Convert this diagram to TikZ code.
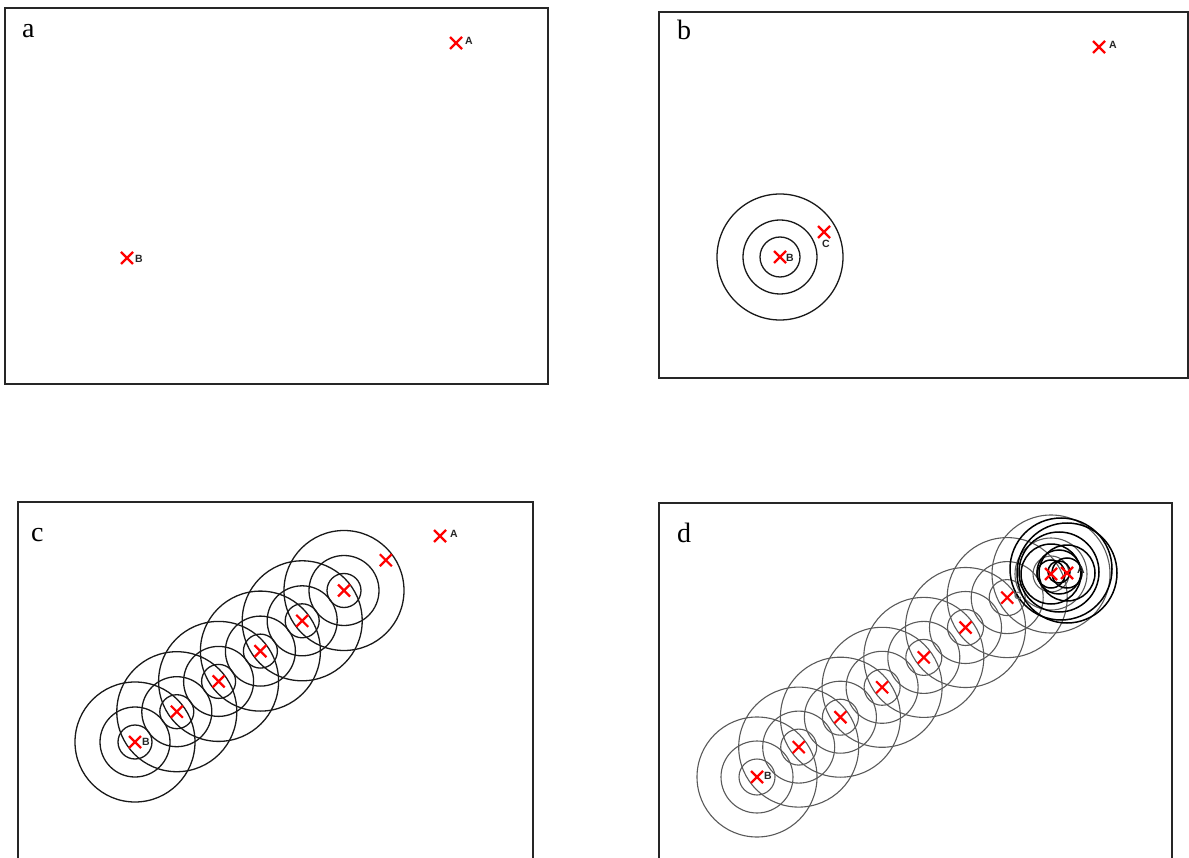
\documentclass[tikz,border=0pt]{standalone}
\usepackage{fontspec}
\setmainfont{Liberation Serif}
\newfontfamily\lblfont{Liberation Sans}
\begin{document}
\begin{tikzpicture}[x=1pt,y=-1pt,
  panel/.style={draw=black!85, line width=1.3pt},
  ring/.style={draw=black!90, line width=1.3pt},
  gring/.style={draw=black!65, line width=1.1pt},
  bring/.style={draw=black, line width=1.5pt},
  ptlabel/.style={font=\lblfont\bfseries\fontsize{10.5}{10.5}\selectfont, inner sep=0pt, text=black!85},
  letter/.style={font=\fontsize{28}{28}\selectfont, inner sep=0pt, anchor=base west},
  xm/.pic={\draw[red, line width=2.2pt] (-6,-6)--(6,6) (-6,6)--(6,-6);}
]
\useasboundingbox (0,0) rectangle (1189,858);
\clip (0,0) rectangle (1189,858);

% ---------------- panel a ----------------
\draw[panel] (5,8) rectangle (548,384);
\node[letter] (la) at (22,38) {a};
\coordinate (aA) at (456,43);
\coordinate (aB) at (127,258);
\pic at (aA) {xm};
\pic at (aB) {xm};
\node[ptlabel] (aAl) at (469,41) {A};
\node[ptlabel] (aBl) at (139,259) {B};

% ---------------- panel b ----------------
\draw[panel] (659,12) rectangle (1188,378);
\node[letter] (lb) at (677,40) {b};
\coordinate (bA) at (1099,47);
\coordinate (bB) at (780,257);
\coordinate (bC) at (824,232);
\draw[ring] (bB) circle[radius=20] (bB) circle[radius=37] (bB) circle[radius=63];
\pic at (bA) {xm};
\pic at (bB) {xm};
\pic at (bC) {xm};
\node[ptlabel] (bAl) at (1113,45) {A};
\node[ptlabel] (bBl) at (790,258) {B};
\node[ptlabel] (bCl) at (826,244) {C};

% ---------------- panel c ----------------
\draw[panel] (18,502) rectangle (533,880);
\node[letter] (lc) at (31,541) {c};
\foreach \i in {0,...,5}{
  \draw[ring] (135+41.8*\i,742-30.3*\i) circle[radius=17]
                (135+41.8*\i,742-30.3*\i) circle[radius=35]
                (135+41.8*\i,742-30.3*\i) circle[radius=60];
}
\foreach \i in {0,...,6}{
  \pic at (135+41.8*\i,742-30.3*\i) {xm};
}
\coordinate (cA) at (440,536);
\pic at (cA) {xm};
\node[ptlabel] (cAl) at (454,534) {A};
\node[ptlabel] (cBl) at (146,742) {B};

% ---------------- panel d ----------------
\draw[panel] (659,503) rectangle (1172,880);
\node[letter] (ld) at (677,542) {d};
\foreach \i in {0,...,6}{
  \draw[gring] (757+41.7*\i,777-29.9*\i) circle[radius=18]
                 (757+41.7*\i,777-29.9*\i) circle[radius=36]
                 (757+41.7*\i,777-29.9*\i) circle[radius=60];
}
\coordinate (dD) at (1051,574);
\coordinate (dE) at (1067,573);
\coordinate (dM) at (1059,572);
\draw[gring] (dD) circle[radius=18] (dD) circle[radius=36] (dD) circle[radius=59];
\draw[bring] (dD) circle[radius=14] (dD) circle[radius=30];
\draw[bring] (dM) circle[radius=11] (dM) circle[radius=22] (dM) circle[radius=40];
\draw[bring] (dE) circle[radius=15] (dE) circle[radius=28] (dE) circle[radius=50];
\draw[bring] (1061,569) circle[radius=51];
\foreach \i in {0,...,6}{
  \pic at (757+41.7*\i,777-29.9*\i) {xm};
}
\pic at (dD) {xm};
\pic at (dE) {xm};
\node[ptlabel] (dBl) at (768,776) {B};
\node[ptlabel, text=black!60] (dCl) at (1018,596) {C};
\node[ptlabel] (dAl) at (1081,570) {A};
\end{tikzpicture}
\end{document}
